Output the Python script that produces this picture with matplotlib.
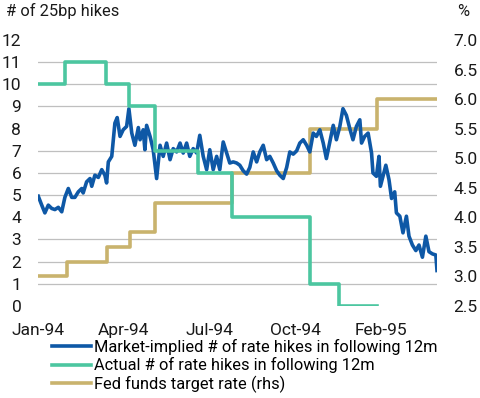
import matplotlib
matplotlib.use("Agg")
import matplotlib.pyplot as plt
from matplotlib.lines import Line2D

plt.rcParams['font.family'] = ['Roboto', 'DejaVu Sans']

# months since Jan-94 (the chart's own x scale)
implied_x = [0.01, 0.13, 0.24, 0.36, 0.48, 0.59, 0.71, 0.83, 0.94, 1.06, 1.18, 1.29, 1.41,
             1.53, 1.58, 1.70, 1.82, 1.88, 1.99, 2.11, 2.23, 2.34, 2.40, 2.46, 2.58, 2.69,
             2.77, 2.87, 2.98, 3.10, 3.18, 3.28, 3.39, 3.51, 3.57, 3.68, 3.74, 3.80, 3.92,
             4.03, 4.15, 4.27, 4.38, 4.50, 4.62, 4.73, 4.85, 4.97, 5.08, 5.20, 5.31, 5.43,
             5.55, 5.66, 5.78, 5.90, 6.01, 6.13, 6.25, 6.36, 6.48, 6.60, 6.71, 6.83, 6.95,
             7.06, 7.18, 7.30, 7.41, 7.53, 7.65, 7.76, 7.88, 8.00, 8.11, 8.23, 8.35, 8.46,
             8.58, 8.70, 8.81, 8.93, 9.05, 9.16, 9.28, 9.40, 9.51, 9.63, 9.74, 9.86, 9.98,
             10.09, 10.21, 10.33, 10.44, 10.56, 10.67, 10.79, 10.91, 11.02, 11.14, 11.26,
             11.32, 11.43, 11.55, 11.67, 11.72, 11.84, 11.93, 11.98, 12.07, 12.17, 12.28,
             12.37, 12.48, 12.54, 12.66, 12.77, 12.89, 12.98, 13.10, 13.22, 13.33, 13.45,
             13.57, 13.68, 13.80, 13.92, 13.96]
implied_hikes = [4.95, 4.55, 4.2, 4.55, 4.4, 4.35, 4.45, 4.25, 4.9, 5.3, 4.9, 4.9, 5.15,
                 5.3, 5.1, 5.6, 5.75, 5.4, 5.9, 5.8, 6.15, 5.9, 5.55, 6.5, 6.75, 8.25,
                 8.5, 7.65, 7.95, 8.1, 8.9, 7.8, 7.25, 8.05, 7.5, 7.95, 7.05, 8.15, 7.65,
                 7.05, 5.75, 7.25, 6.75, 7.35, 6.6, 7.1, 6.95, 7.35, 6.9, 7.35, 6.75, 7.1,
                 6.9, 7.7, 6.75, 6.15, 7.05, 6.15, 6.75, 6.15, 7.4, 6.9, 6.45, 6.5, 6.45,
                 6.35, 6.1, 5.95, 6.25, 6.95, 6.5, 6.95, 7.25, 6.6, 6.75, 6.45, 6.1, 5.9,
                 5.75, 6.25, 6.95, 6.85, 7.0, 7.35, 7.5, 7.25, 6.95, 7.8, 7.65, 7.95, 7.35,
                 6.65, 7.4, 8.15, 7.5, 8.1, 8.9, 8.6, 8.0, 7.5, 8.1, 8.4,
                 7.35, 7.65, 7.8, 6.9, 6.0, 5.85, 6.75, 5.4, 5.85, 6.35, 5.7,
                 4.85, 5.15, 4.2, 4.05, 3.3, 4.05, 3.15, 2.75, 2.5, 2.75, 2.2,
                 3.15, 2.45, 2.35, 2.3, 1.6]

# step series: edges in months, value held until next edge
actual_edges = [0, 0.94, 2.38, 3.18, 4.09, 5.59, 6.78, 9.51, 10.52, 11.85]
actual_hikes = [10, 11, 10, 9, 7, 6, 4, 1, 0]

fed_edges = [0, 1.01, 2.41, 3.22, 4.09, 6.78, 9.51, 11.85, 13.96]
fed_rate = [3.0, 3.25, 3.5, 3.75, 4.25, 4.75, 5.5, 6.0]

tick_pos = [0, 3, 6, 9, 12]
tick_labels = ['Jan-94', 'Apr-94', 'Jul-94', 'Oct-94', 'Feb-95']

blue = '#0E58A6'
teal = '#4CC6A0'
gold = '#C9B36D'
grid_col = '#BFBFBF'
txt = '#1A1A1A'

fig = plt.figure(figsize=(4.8, 3.98), dpi=100)
ax2 = fig.add_axes([0.0792, 0.2312, 0.8312, 0.6683])
ax = ax2.twinx()
ax.yaxis.tick_left()
ax2.yaxis.tick_right()
ax.set_zorder(ax2.get_zorder() + 1)
ax.patch.set_visible(False)

ax.set_ylim(0, 12)
ax2.set_ylim(2.5, 7.0)
ax2.set_xlim(0, 13.96)

# gridlines at the left-axis integers, drawn on the back axes
lo, hi = ax2.get_ylim()
ax2.set_yticks([lo + (hi - lo) * k / 12 for k in range(13)], minor=True)
ax2.grid(True, which='minor', axis='y', color=grid_col, lw=0.9)
ax2.tick_params(axis='y', which='minor', length=0)

ax2.step(fed_edges, fed_rate + [fed_rate[-1]], where='post', color=gold, lw=2.6)
ax.plot(implied_x, implied_hikes, color=blue, lw=2.6)
ax.step(actual_edges, actual_hikes + [actual_hikes[-1]], where='post', color=teal, lw=2.6)

ax.set_yticks(range(13))
ax2.set_yticks([2.5 + 0.5 * k for k in range(10)])
ax2.set_yticklabels(['%.1f' % (2.5 + 0.5 * k) for k in range(10)])
ax2.set_xticks(tick_pos)
ax2.set_xticklabels(tick_labels)

for a in (ax, ax2):
    for s in a.spines.values():
        s.set_visible(False)
ax.tick_params(axis='y', length=0, labelsize=12.5, colors=txt, pad=12)
ax2.tick_params(axis='y', length=0, labelsize=12.5, colors=txt, pad=12)
ax2.tick_params(axis='x', length=0, labelsize=12.5, colors=txt, pad=12)

fig.text(0.012, 0.972, '# of 25bp hikes', fontsize=11.8, color=txt, va='center', ha='left')
fig.text(0.965, 0.972, '%', fontsize=11.8, color=txt, va='center', ha='center')

handles = [Line2D([], [], color=blue, lw=2.6),
           Line2D([], [], color=teal, lw=2.6),
           Line2D([], [], color=gold, lw=2.6)]
labels = ['Market-implied # of rate hikes in following 12m',
          'Actual # of rate hikes in following 12m',
          'Fed funds target rate (rhs)']
fig.legend(handles, labels, loc='upper left', bbox_to_anchor=(0.108, 0.148),
           frameon=False, fontsize=11.8, borderpad=0, handlelength=2.4,
           handletextpad=0.15, labelspacing=0.14, borderaxespad=0)

fig.savefig('out.png', dpi=100)
